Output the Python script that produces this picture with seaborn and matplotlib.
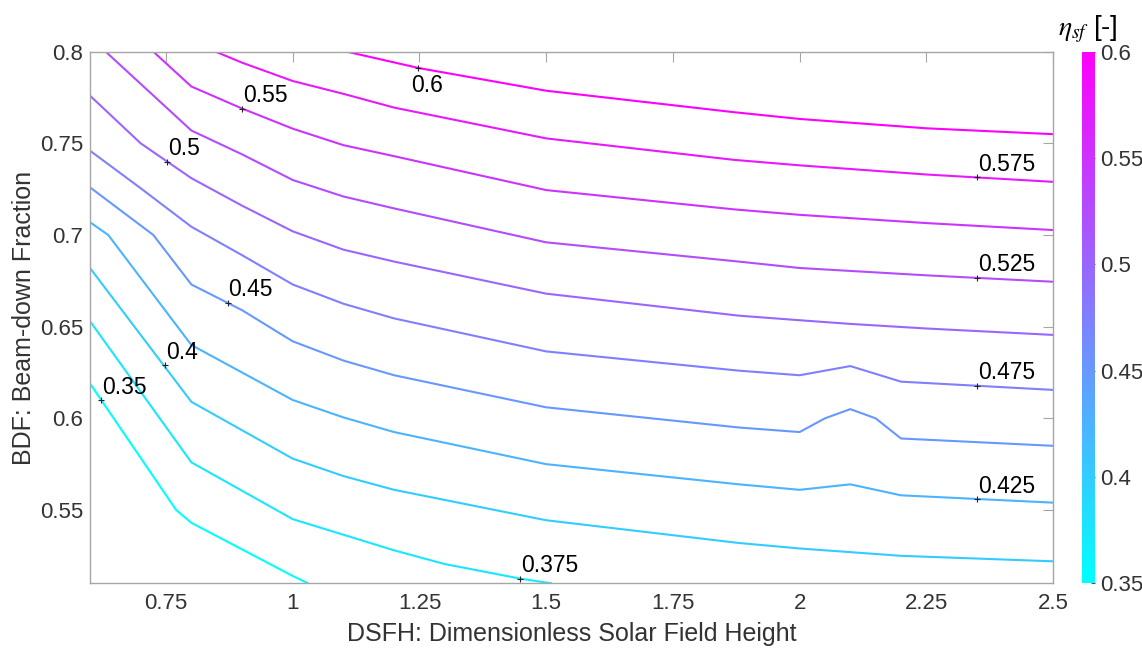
import numpy as np
import pandas as pd
import matplotlib
matplotlib.use('Agg')
import matplotlib.pyplot as plt
import seaborn as sns
from matplotlib.colors import Normalize
from matplotlib.cm import ScalarMappable

# -------------------------------------------------
# contour data (DSFH, BDF)
# -------------------------------------------------

levels = [0.35, 0.375, 0.4, 0.425, 0.45, 0.475, 0.5, 0.525, 0.55, 0.575, 0.6]

x_350 = [0.6, 0.77, 0.8, 1.0, 1.03]
y_350 = [0.619, 0.550, 0.543, 0.514, 0.510]

x_375 = [0.6, 0.8, 1.0, 1.1, 1.2, 1.3, 1.45, 1.51]
y_375 = [0.653, 0.576, 0.545, 0.5365, 0.528, 0.5205, 0.5125, 0.510]

x_400 = [0.6, 0.8, 1.0, 1.1, 1.2, 1.5, 1.88, 2.0, 2.1, 2.2, 2.5]
y_400 = [0.682, 0.609, 0.578, 0.5685, 0.561, 0.5444, 0.532, 0.529, 0.527, 0.525, 0.522]

x_425 = [0.6, 0.636, 0.8, 1.0, 1.1, 1.2, 1.5, 1.88, 2.0, 2.1, 2.2, 2.5]
y_425 = [0.707, 0.700, 0.640, 0.610, 0.6005, 0.5925, 0.575, 0.564, 0.561, 0.564, 0.558, 0.554]

x_450 = [0.6, 0.725, 0.8, 0.9, 1.0, 1.1, 1.2, 1.5, 1.88, 2.0, 2.05, 2.1, 2.15, 2.2, 2.5]
y_450 = [0.726, 0.700, 0.673, 0.659, 0.642, 0.6315, 0.6235, 0.606, 0.595,
         0.5925, 0.600, 0.605, 0.600, 0.589, 0.585]

x_475 = [0.6, 0.7, 0.8, 0.9, 1.0, 1.1, 1.2, 1.5, 1.88, 2.0, 2.1, 2.2, 2.5]
y_475 = [0.746, 0.7255, 0.7045, 0.689, 0.673, 0.6625, 0.6545, 0.6365, 0.626,
         0.6235, 0.6285, 0.620, 0.6155]

x_500 = [0.6, 0.7, 0.8, 0.9, 1.0, 1.1, 1.2, 1.5, 1.88, 2.0, 2.1, 2.25, 2.5]
y_500 = [0.776, 0.750, 0.731, 0.716, 0.702, 0.692, 0.6855, 0.668, 0.656,
         0.6535, 0.6515, 0.649, 0.6455]

x_525 = [0.631, 0.8, 0.9, 1.0, 1.1, 1.2, 1.5, 1.88, 2.0, 2.25, 2.5]
y_525 = [0.8, 0.757, 0.744, 0.730, 0.721, 0.7145, 0.696, 0.6855, 0.682, 0.678, 0.6745]

x_550 = [0.725, 0.8, 0.9, 1.0, 1.1, 1.2, 1.5, 1.87, 2.0, 2.25, 2.5]
y_550 = [0.8, 0.781, 0.769, 0.758, 0.749, 0.743, 0.7245, 0.714, 0.711, 0.7065, 0.7027]

x_575 = [0.848, 0.9, 1.0, 1.1, 1.2, 1.5, 1.87, 2.0, 2.25, 2.5]
y_575 = [0.8, 0.794, 0.784, 0.777, 0.7695, 0.7527, 0.741, 0.738, 0.733, 0.729]

x_600 = [1.107, 1.21, 1.25, 1.5, 1.87, 2.0, 2.25, 2.5]
y_600 = [0.8, 0.7935, 0.791, 0.7787, 0.767, 0.7633, 0.7582, 0.755]

contour_x = [x_350, x_375, x_400, x_425, x_450, x_475, x_500, x_525, x_550, x_575, x_600]
contour_y = [y_350, y_375, y_400, y_425, y_450, y_475, y_500, y_525, y_550, y_575, y_600]

# inline labels (clabel style)
label_text = ['0.35', '0.4', '0.375', '0.45', '0.5', '0.55', '0.6',
              '0.575', '0.525', '0.475', '0.425']
label_x = [0.622, 0.748, 1.449, 0.872, 0.752, 0.9, 1.247, 2.35, 2.35, 2.35, 2.35]
label_y = [0.610, 0.629, 0.5125, 0.663, 0.740, 0.769, 0.791, 0.7314, 0.6767, 0.6177, 0.556]

x_ticks = [0.75, 1, 1.25, 1.5, 1.75, 2, 2.25, 2.5]
y_ticks = [0.55, 0.6, 0.65, 0.7, 0.75, 0.8]
cbar_ticks = [0.35, 0.4, 0.45, 0.5, 0.55, 0.6]

# -------------------------------------------------
# style
# -------------------------------------------------

sns.set_style('white')
plt.rcParams['font.family'] = ['Liberation Sans', 'DejaVu Sans']
plt.rcParams['mathtext.fontset'] = 'stix'

GRAY = '#a6a6a6'
TXT = '#333333'

rows = []
for lev, xs, ys in zip(levels, contour_x, contour_y):
    for i, (xv, yv) in enumerate(zip(xs, ys)):
        rows.append({'x': xv, 'y': yv, 'level': lev, 'order': i})
df = pd.DataFrame(rows)

fig = plt.figure(figsize=(11.42, 6.5), dpi=100)
ax = fig.add_axes([0.0788, 0.1026, 0.8433, 0.8179])
cax = fig.add_axes([0.9475, 0.1026, 0.0114, 0.8179])

norm = Normalize(vmin=0.35, vmax=0.6)

sns.lineplot(
    data=df,
    x='x',
    y='y',
    hue='level',
    units='level',
    palette='cool',
    hue_norm=norm,
    sort=False,
    estimator=None,
    legend=False,
    linewidth=1.5,
    ax=ax
)

# label markers + text
ax.plot(label_x, label_y, linestyle='none', marker='+', color='#222222',
        markersize=4, markeredgewidth=0.8)

for txt, lx, ly in zip(label_text, label_x, label_y):
    if txt == '0.6':
        ax.annotate(txt, (lx, ly), xytext=(-5, -4), textcoords='offset points',
                    ha='left', va='top', fontsize=16.5, color='black')
    else:
        ax.annotate(txt, (lx, ly), xytext=(0.5, 1), textcoords='offset points',
                    ha='left', va='bottom', fontsize=16.5, color='black')

ax.set_xlim(0.6, 2.5)
ax.set_ylim(0.51, 0.8)
ax.set_xticks(x_ticks)
ax.set_yticks(y_ticks)
ax.set_xticklabels([f'{v:g}' for v in x_ticks])
ax.set_yticklabels([f'{v:g}' for v in y_ticks])

ax.tick_params(direction='in', length=7, width=0.8, color=GRAY,
               labelsize=16, labelcolor=TXT, top=True, right=True)
ax.tick_params(axis='x', pad=7)
ax.tick_params(axis='y', pad=5)

for sp in ax.spines.values():
    sp.set_visible(True)
    sp.set_color(GRAY)
    sp.set_linewidth(1.0)

ax.set_xlabel('DSFH: Dimensionless Solar Field Height', fontsize=18,
              color=TXT, labelpad=6)
ax.set_ylabel('BDF: Beam-down Fraction', fontsize=18, color=TXT, labelpad=3)

# colorbar
sm = ScalarMappable(norm=norm, cmap='cool')
cbar = fig.colorbar(sm, cax=cax)
cbar.set_ticks(cbar_ticks)
cbar.set_ticklabels([f'{v:g}' for v in cbar_ticks])
cbar.outline.set_visible(False)
cax.tick_params(direction='in', length=3, width=0.8, color='#555555',
                labelsize=16, labelcolor=TXT, pad=4)

fig.text(0.953, 0.955, r'$\eta_{sf}$ [-]', ha='center', va='center',
         fontsize=20, color='black')

fig.savefig('out.png', dpi=100, facecolor='white')
